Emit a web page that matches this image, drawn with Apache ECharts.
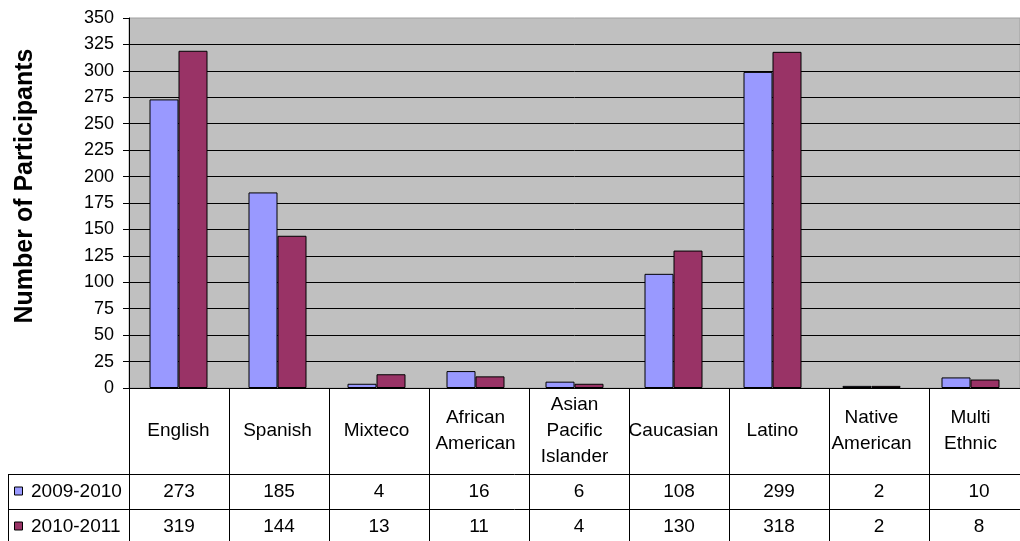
<!DOCTYPE html>
<html>
<head>
<meta charset="utf-8">
<script src="https://cdn.jsdelivr.net/npm/echarts@6/dist/echarts.min.js"></script>
<style>
  html, body { margin: 0; padding: 0; background: #fff; }
  #chart { width: 1020px; height: 541px; }
</style>
</head>
<body>
<div id="chart"></div>
<script>
// data
const categories = ['English', 'Spanish', 'Mixteco', 'African\nAmerican', 'Asian\nPacific\nIslander',
  'Caucasian', 'Latino', 'Native\nAmerican', 'Multi\nEthnic'];
const seriesNames = ['2009-2010', '2010-2011'];
const values2009 = [273, 185, 4, 16, 6, 108, 299, 2, 10];
const values2010 = [319, 144, 13, 11, 4, 130, 318, 2, 8];
const yMin = 0, yMax = 350, yStep = 25;

const colors = ['#9999ff', '#993366'];
const FONT = 'Liberation Sans, Arial, sans-serif';

// layout of plot + data table
const gridLeft = 129, gridTop = 18, colW = 100;
const plotBottom = 388;
const headerBottom = 474, row1Bottom = 509, row2Bottom = 544;
const tableLeft = 8;

const chart = echarts.init(document.getElementById('chart'), null, { renderer: 'canvas' });

function tableGraphics() {
  const g = [];
  const right = gridLeft + colW * categories.length;
  const line = (x1, y1, x2, y2) => ({
    type: 'line', silent: true,
    shape: { x1, y1, x2, y2 },
    style: { stroke: '#000', lineWidth: 1 }
  });
  // vertical borders
  for (let i = 0; i <= categories.length; i++) {
    const x = gridLeft + i * colW + 0.5;
    g.push(line(x, plotBottom, x, row2Bottom));
  }
  g.push(line(tableLeft + 0.5, headerBottom, tableLeft + 0.5, row2Bottom));
  // horizontal borders
  [headerBottom, row1Bottom, row2Bottom].forEach(y => g.push(line(tableLeft, y + 0.5, right, y + 0.5)));

  const rows = [values2009, values2010];
  const rowMid = [(headerBottom + row1Bottom) / 2, (row1Bottom + row2Bottom) / 2];
  rows.forEach((vals, r) => {
    // legend key + series name
    g.push({
      type: 'rect', silent: true,
      shape: { x: 14.5, y: rowMid[r] - 4.5, width: 8, height: 8 },
      style: { fill: colors[r], stroke: '#000', lineWidth: 1 }
    });
    g.push({
      type: 'text', silent: true,
      x: 31, y: rowMid[r],
      style: { text: seriesNames[r], font: '19px ' + FONT, fill: '#000',
        textAlign: 'left', textVerticalAlign: 'middle' }
    });
    vals.forEach((v, i) => {
      g.push({
        type: 'text', silent: true,
        x: gridLeft + i * colW + colW / 2, y: rowMid[r],
        style: { text: String(v), font: '19px ' + FONT, fill: '#000',
          textAlign: 'center', textVerticalAlign: 'middle' }
      });
    });
  });

  // y axis title
  g.push({
    type: 'text', silent: true,
    x: 25, y: 186, rotation: Math.PI / 2,
    style: { text: 'Number of Participants', font: 'bold 25px ' + FONT, fill: '#000',
      textAlign: 'center', textVerticalAlign: 'middle' }
  });
  return g;
}

chart.setOption({
  animation: false,
  backgroundColor: '#fff',
  grid: {
    left: gridLeft, top: gridTop, width: colW * categories.length, height: plotBottom - gridTop,
    show: true, backgroundColor: '#c0c0c0', borderColor: '#a0a0a0', borderWidth: 1
  },
  xAxis: {
    type: 'category',
    data: categories,
    axisLine: { lineStyle: { color: '#000', width: 1 } },
    axisTick: { show: false },
    axisLabel: {
      interval: 0, margin: (headerBottom - plotBottom) / 2,
      verticalAlign: 'middle', lineHeight: 26,
      fontFamily: FONT, fontSize: 19, color: '#000'
    }
  },
  yAxis: {
    type: 'value',
    min: yMin, max: yMax, interval: yStep,
    axisLine: { show: true, lineStyle: { color: '#000', width: 1 } },
    axisTick: { show: true, length: 6, lineStyle: { color: '#000' } },
    axisLabel: { margin: 15, fontFamily: FONT, fontSize: 18, color: '#000' },
    splitLine: { show: true, showMaxLine: false, lineStyle: { color: '#000', width: 1 } }
  },
  series: [
    {
      name: seriesNames[0], type: 'bar', data: values2009,
      barWidth: 29, barGap: '0%',
      itemStyle: { color: colors[0], borderColor: '#000', borderWidth: 1 }
    },
    {
      name: seriesNames[1], type: 'bar', data: values2010,
      barWidth: 29, barGap: '0%',
      itemStyle: { color: colors[1], borderColor: '#000', borderWidth: 1 }
    }
  ],
  graphic: tableGraphics()
});
</script>
</body>
</html>
